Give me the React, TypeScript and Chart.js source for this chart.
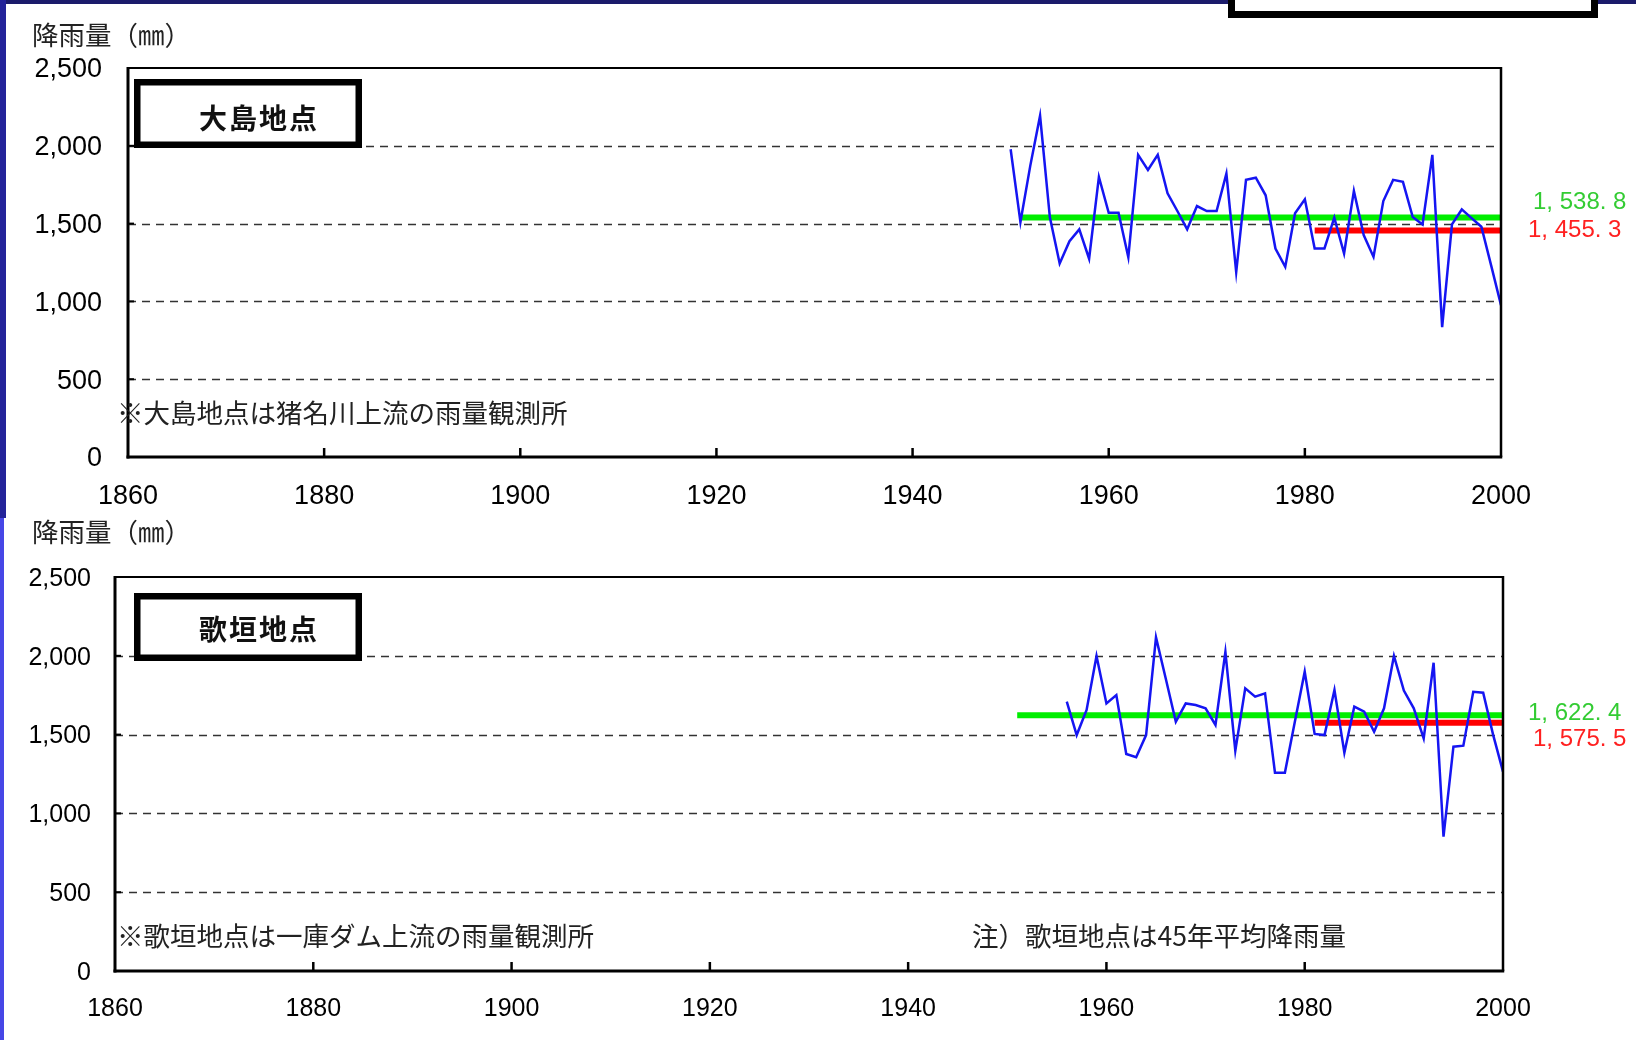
import React, { useEffect, useRef } from "react";
import { Chart, registerables } from "chart.js";

Chart.register(...registerables);

// ---------- data ----------
const Y_TICKS = [0, 500, 1000, 1500, 2000, 2500];
const X_TICKS = [1860, 1880, 1900, 1920, 1940, 1960, 1980, 2000];

const OSHIMA_YEARS = [
  1950, 1951, 1952, 1953, 1954, 1955, 1956, 1957, 1958, 1959,
  1960, 1961, 1962, 1963, 1964, 1965, 1966, 1967, 1968, 1969,
  1970, 1971, 1972, 1973, 1974, 1975, 1976, 1977, 1978, 1979,
  1980, 1981, 1982, 1983, 1984, 1985, 1986, 1987, 1988, 1989,
  1990, 1991, 1992, 1993, 1994, 1995, 1996, 1997, 1998, 1999, 2000,
];
const OSHIMA_RAIN = [
  1978, 1510, 1871, 2193, 1540, 1244, 1387, 1463, 1274, 1800,
  1570, 1570, 1284, 1942, 1845, 1942, 1695, 1581, 1463, 1613,
  1581, 1581, 1821, 1188, 1781, 1795, 1682, 1340, 1222, 1566,
  1656, 1340, 1340, 1538, 1308, 1710, 1426, 1286, 1645, 1781,
  1768, 1542, 1495, 1942, 835, 1495, 1591, 1535, 1480, 1230, 975,
];

const UTAGAKI_YEARS = [
  1956, 1957, 1958, 1959,
  1960, 1961, 1962, 1963, 1964, 1965, 1966, 1967, 1968, 1969,
  1970, 1971, 1972, 1973, 1974, 1975, 1976, 1977, 1978, 1979,
  1980, 1981, 1982, 1983, 1984, 1985, 1986, 1987, 1988, 1989,
  1990, 1991, 1992, 1993, 1994, 1995, 1996, 1997, 1998, 1999, 2000,
];
const UTAGAKI_RAIN = [
  1709, 1497, 1656, 1999,
  1698, 1751, 1377, 1356, 1497, 2117, 1851, 1582, 1698, 1688,
  1667, 1561, 2024, 1398, 1794, 1741, 1762, 1258, 1258, 1580,
  1899, 1504, 1497, 1783, 1385, 1677, 1645, 1518, 1667, 1999,
  1779, 1667, 1476, 1956, 852, 1423, 1430, 1772, 1766, 1500, 1265,
];

const LONG_MEAN_YEARS = [1951, 2000];
const SHORT_MEAN_YEARS = [1981, 2000];
const OSHIMA_MEANS = [1538.8, 1455.3];
const UTAGAKI_MEANS = [1622.4, 1575.5];
const OSHIMA_MEAN_LABELS = ["1, 538. 8", "1, 455. 3"];
const UTAGAKI_MEAN_LABELS = ["1, 622. 4", "1, 575. 5"];

const UNIT_LABEL = "降雨量（㎜）";
const OSHIMA_TITLE = "大島地点";
const UTAGAKI_TITLE = "歌垣地点";
const OSHIMA_NOTE = "※大島地点は猪名川上流の雨量観測所";
const UTAGAKI_NOTE = "※歌垣地点は一庫ダム上流の雨量観測所";
const UTAGAKI_NOTE2 = "注）歌垣地点は45年平均降雨量";

// ---------- styling ----------
const W = 1636;
const CJK = '"Noto Sans CJK JP", "Noto Sans CJK SC", sans-serif';
const NUM = '"Liberation Sans", Arial, sans-serif';
const BLUE = "#1515f2";
const GREEN = "#00ee00";
const RED = "#ff0000";
const GREEN_TEXT = "#33cc33";
const RED_TEXT = "#ff2020";

type Txt = { text: string; x: number; y: number; color?: string };

type PanelProps = {
  top: number;
  height: number;
  yAxisWidth: number;
  padTop: number;
  padBottom: number;
  padRight: number;
  tickFont: number;
  yPad: number;
  years: number[];
  rain: number[];
  means: number[];
  meanLabels: Txt[];
  title: string;
  titleBox: [number, number, number, number];
  titleCenter: [number, number];
  notes: Txt[];
  unitY: number;
};

function Panel(p: PanelProps) {
  const ref = useRef<HTMLCanvasElement | null>(null);

  useEffect(() => {
    const canvas = ref.current;
    if (!canvas) return;

    const overlay = {
      id: "overlay",
      beforeDatasetsDraw(chart: any) {
        const { ctx, chartArea: a } = chart;
        const y = chart.scales.y;
        ctx.save();
        ctx.strokeStyle = "#333";
        ctx.lineWidth = 1.3;
        ctx.setLineDash([8, 6]);
        for (const v of Y_TICKS) {
          if (v === Y_TICKS[0] || v === Y_TICKS[Y_TICKS.length - 1]) continue;
          const py = Math.round(y.getPixelForValue(v)) + 0.5;
          ctx.beginPath();
          ctx.moveTo(a.left, py);
          ctx.lineTo(a.right, py);
          ctx.stroke();
        }
        ctx.restore();
      },
      afterDatasetsDraw(chart: any) {
        const { ctx, chartArea: a } = chart;
        const x = chart.scales.x;
        const y = chart.scales.y;
        const line = (x1: number, y1: number, x2: number, y2: number, w: number) => {
          ctx.lineWidth = w;
          ctx.beginPath();
          ctx.moveTo(x1, y1);
          ctx.lineTo(x2, y2);
          ctx.stroke();
        };
        ctx.save();
        ctx.setLineDash([]);
        ctx.strokeStyle = "#000";
        ctx.lineCap = "butt";
        // frame
        line(a.left, a.top, a.right + 1, a.top, 2);
        line(a.right, a.top - 1, a.right, a.bottom, 2.5);
        line(a.left, a.top - 1, a.left, a.bottom + 1.5, 3);
        line(a.left - 1.5, a.bottom, a.right + 1.25, a.bottom, 3);
        // inward tick marks
        for (const v of X_TICKS.slice(1, -1)) {
          const px = x.getPixelForValue(v);
          line(px, a.bottom, px, a.bottom - 9, 2.5);
        }
        for (const v of Y_TICKS.slice(1, -1)) {
          const py = y.getPixelForValue(v);
          line(a.left, py, a.left + 6, py, 2);
        }
        // title box
        const [bx, by, bw, bh] = p.titleBox;
        ctx.fillStyle = "#fff";
        ctx.fillRect(bx, by, bw, bh);
        ctx.lineWidth = 6.5;
        ctx.strokeRect(bx + 3.25, by + 3.25, bw - 6.5, bh - 6.5);
        ctx.fillStyle = "#111";
        ctx.font = `bold 28px ${CJK}`;
        ctx.textBaseline = "middle";
        ctx.textAlign = "left";
        (ctx as any).letterSpacing = "2px";
        const tw = ctx.measureText(p.title).width;
        ctx.fillText(p.title, p.titleCenter[0] - (tw - 2) / 2, p.titleCenter[1]);
        (ctx as any).letterSpacing = "0px";
        // unit label
        ctx.font = `26.5px ${CJK}`;
        ctx.fillStyle = "#222";
        ctx.fillText(UNIT_LABEL, 32, p.unitY);
        // notes
        ctx.font = `26.5px ${CJK}`;
        for (const n of p.notes) {
          ctx.fillStyle = n.color || "#222";
          ctx.fillText(n.text, n.x, n.y);
        }
        // mean labels
        ctx.font = `24px ${NUM}`;
        for (const n of p.meanLabels) {
          ctx.fillStyle = n.color || "#000";
          ctx.fillText(n.text, n.x, n.y);
        }
        ctx.restore();
      },
    };

    const chart = new Chart(canvas, {
      type: "line",
      data: {
        datasets: [
          {
            label: "rain",
            data: p.years.map((yr, i) => ({ x: yr, y: p.rain[i] })),
            borderColor: BLUE,
            borderWidth: 2.5,
            pointRadius: 0,
            tension: 0,
            fill: false,
          },
          {
            label: "long",
            data: LONG_MEAN_YEARS.map((yr) => ({ x: yr, y: p.means[0] })),
            borderColor: GREEN,
            borderWidth: 6,
            pointRadius: 0,
            borderCapStyle: "butt",
            clip: 10,
          },
          {
            label: "short",
            data: SHORT_MEAN_YEARS.map((yr) => ({ x: yr, y: p.means[1] })),
            borderColor: RED,
            borderWidth: 6,
            pointRadius: 0,
            borderCapStyle: "butt",
            clip: 10,
          },
        ],
      } as any,
      options: {
        animation: false,
        responsive: false,
        events: [],
        layout: {
          padding: { left: 0, right: p.padRight, top: p.padTop, bottom: p.padBottom },
        },
        plugins: { legend: { display: false }, tooltip: { enabled: false } },
        scales: {
          x: {
            type: "linear",
            min: X_TICKS[0],
            max: X_TICKS[X_TICKS.length - 1],
            grid: { display: false, drawTicks: false },
            border: { display: false },
            afterBuildTicks: (s: any) => {
              s.ticks = X_TICKS.map((v) => ({ value: v }));
            },
            afterFit: (s: any) => {
              s.height = 48;
            },
            ticks: {
              autoSkip: false,
              maxRotation: 0,
              padding: 23,
              color: "#000",
              font: { family: NUM, size: p.tickFont },
              callback: (v: any) => String(v),
            },
          },
          y: {
            type: "linear",
            min: Y_TICKS[0],
            max: Y_TICKS[Y_TICKS.length - 1],
            grid: { display: false, drawTicks: false },
            border: { display: false },
            afterBuildTicks: (s: any) => {
              s.ticks = Y_TICKS.map((v) => ({ value: v }));
            },
            afterFit: (s: any) => {
              s.width = p.yAxisWidth;
            },
            ticks: {
              padding: p.yPad,
              labelOffset: 2,
              color: "#000",
              font: { family: NUM, size: p.tickFont },
              callback: (v: any) => Number(v).toLocaleString("en-US"),
            },
          },
        },
      } as any,
      plugins: [overlay as any],
    });

    return () => chart.destroy();
  }, []);

  return (
    <canvas
      ref={ref}
      width={W}
      height={p.height}
      style={{ position: "absolute", left: 0, top: p.top, width: W, height: p.height, display: "block" }}
    />
  );
}

export default function App() {
  return (
    <div
      style={{
        position: "absolute",
        left: 0,
        top: 0,
        width: W,
        height: 1040,
        background: "#fff",
        overflow: "hidden",
      }}
    >
      <Panel
        top={0}
        height={520}
        yAxisWidth={128}
        padTop={68}
        padBottom={15}
        padRight={135}
        tickFont={27}
        yPad={26}
        years={OSHIMA_YEARS}
        rain={OSHIMA_RAIN}
        means={OSHIMA_MEANS}
        meanLabels={[
          { text: OSHIMA_MEAN_LABELS[0], x: 1533, y: 202, color: GREEN_TEXT },
          { text: OSHIMA_MEAN_LABELS[1], x: 1528, y: 230, color: RED_TEXT },
        ]}
        title={OSHIMA_TITLE}
        titleBox={[134, 79, 228, 69]}
        titleCenter={[258, 118]}
        notes={[{ text: OSHIMA_NOTE, x: 117, y: 413 }]}
        unitY={35}
      />
      <Panel
        top={505}
        height={535}
        yAxisWidth={115}
        padTop={72}
        padBottom={21}
        padRight={133}
        tickFont={25}
        yPad={24}
        years={UTAGAKI_YEARS}
        rain={UTAGAKI_RAIN}
        means={UTAGAKI_MEANS}
        meanLabels={[
          { text: UTAGAKI_MEAN_LABELS[0], x: 1528, y: 208, color: GREEN_TEXT },
          { text: UTAGAKI_MEAN_LABELS[1], x: 1533, y: 234, color: RED_TEXT },
        ]}
        title={UTAGAKI_TITLE}
        titleBox={[134, 88, 228, 68]}
        titleCenter={[258, 124]}
        notes={[
          { text: UTAGAKI_NOTE, x: 117, y: 431 },
          { text: UTAGAKI_NOTE2, x: 972, y: 431 },
        ]}
        unitY={27}
      />
      {/* decorative frame pieces */}
      <div style={{ position: "absolute", left: 0, top: 0, width: W, height: 4, background: "#1b1b6b" }} />
      <div style={{ position: "absolute", left: 0, top: 0, width: 6, height: 518, background: "#23239a" }} />
      <div style={{ position: "absolute", left: 0, top: 518, width: 4, height: 522, background: "#4646e6" }} />
      <div
        style={{
          position: "absolute",
          left: 1228,
          top: -20,
          width: 370,
          height: 38,
          boxSizing: "border-box",
          border: "7px solid #000",
          background: "#fff",
        }}
      />
    </div>
  );
}
